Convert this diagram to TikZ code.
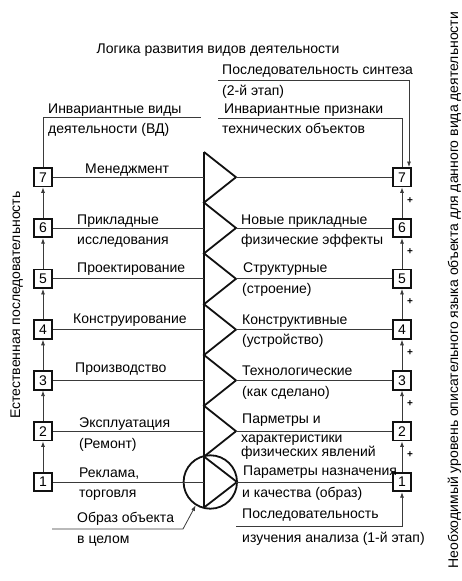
\documentclass[tikz,border=0pt]{standalone}
\usepackage{fontspec}
\setmainfont{Liberation Sans}
\usetikzlibrary{arrows.meta, calc}
\definecolor{ink}{HTML}{111111}
\definecolor{wire}{HTML}{3A3A3A}
\tikzset{
  lvl/.style={draw=ink, line width=1.8pt, minimum size=18.5pt, inner sep=0pt, fill=white, font=\fontsize{14}{16}\selectfont},
  wire/.style={draw=wire, line width=0.8pt},
  tip/.style={-{Latex[length=5.5pt,width=4pt]}},
  txt/.style={anchor=base west, inner sep=0pt, font=\fontsize{14}{16}\selectfont},
  plus/.style={inner sep=0pt, font=\fontsize{10}{10}\selectfont\bfseries}
}

\begin{document}
\begin{tikzpicture}[x=1pt, y=-1pt]
  \useasboundingbox (0,0) rectangle (462,581);
  \fill[white] (0,0) rectangle (462,581);

  % levels 1..7, spine and zigzag
  \foreach \k in {1,...,7}{
     \pgfmathsetmacro\yy{482-(\k-1)*50.8}
     \node[lvl] (l\k) at (43,\yy) {\k};
     \node[lvl] (r\k) at (402,\yy) {\k};
     \coordinate (s\k) at (204,\yy);
     \coordinate (t\k) at (236,\yy);}
  \node[draw=ink, circle, line width=1.8pt, minimum size=53.4pt, inner sep=0pt] (img) at (210.3,482) {};
  \draw[ink, line width=1.8pt] (204,152) -- (204,507.5);
  \draw[ink, line width=1.8pt] (204,152)
     \foreach \k in {7,...,2}{ -- (t\k) -- ($(s\k)+(0,25.4)$) } -- (237,482) -- (204,507.5);

  \foreach \k in {1,...,7}{
     \draw[wire] (l\k.east) -- (s\k);
     \draw[wire] (t\k) -- (r\k.west);}
  \foreach \k [evaluate=\k as \n using int(\k+1)] in {1,...,6}{
     \draw[wire, tip] (l\k.north) -- (l\n.south);
     \draw[wire, tip] (r\k.north) -- (r\n.south);
     \node[plus] (p\n) at ($(r\n.south)+(8,13)$) {+};}

  % top and bottom feeds
  \coordinate (lt) at (43,117); \coordinate (le) at (201,117);
  \draw[wire] (l7.north) -- (lt) -- (le);
  \coordinate (rt) at (218,118); \coordinate (rc) at (402,118);
  \draw[wire] (rt) -- (rc) -- (r7.north);
  \coordinate (st) at (218,80); \coordinate (sc) at (409,80);
  \draw[wire, tip] (st) -- (sc) -- (sc |- r7.north);
  \coordinate (bt) at (236,526); \coordinate (bc) at (402,526);
  \draw[wire, tip] (bt) -- (bc) -- (r1.south);
  \coordinate (ot) at (52,529); \coordinate (oc) at (183,529);
  \draw[wire, tip] (ot) -- (oc) -- (img.238);

  % texts
  \node[txt, anchor=base] (title) at (218,53) {Логика развития видов деятельности};
  \node[txt] (syn1) at (222,74) {Последовательность синтеза};
  \node[txt] (syn2) at (222,95) {(2-й этап)};
  \node[txt] (inv1) at (48,113) {Инвариантные виды};
  \node[txt] (inv2) at (48,133) {деятельности (ВД)};
  \node[txt] (sig1) at (224,113) {Инвариантные признаки};
  \node[txt] (sig2) at (222,133) {технических объектов};

  \node[txt] (a7) at (85,173) {Менеджмент};
  \node[txt] (a6) at (77,224) {Прикладные};
  \node[txt] (a6b) at (77,244) {исследования};
  \node[txt] (a5) at (77,272) {Проектирование};
  \node[txt] (a4) at (73,323) {Конструирование};
  \node[txt] (a3) at (75,372) {Производство};
  \node[txt] (a2) at (79,427) {Эксплуатация};
  \node[txt] (a2b) at (79,448) {(Ремонт)};
  \node[txt] (a1) at (79,477) {Реклама,};
  \node[txt] (a1b) at (79,497) {торговля};
  \node[txt] (o1) at (77,522) {Образ объекта};
  \node[txt] (o2) at (77,543) {в целом};

  \node[txt] (b6) at (241,224) {Новые прикладные};
  \node[txt] (b6b) at (241,244) {физические эффекты};
  \node[txt] (b5) at (243,272) {Структурные};
  \node[txt] (b5b) at (242,293) {(строение)};
  \node[txt] (b4) at (242,324) {Конструктивные};
  \node[txt] (b4b) at (242,344) {(устройство)};
  \node[txt] (b3) at (242,375) {Технологические};
  \node[txt] (b3b) at (242,396) {(как сделано)};
  \node[txt] (b2) at (242,423) {Парметры и};
  \node[txt] (b2b) at (241,442) {характеристики};
  \node[txt] (b2c) at (241,456) {физических явлений};
  \node[txt] (b1) at (243,475) {Параметры назначения};
  \node[txt] (b1b) at (242,497) {и качества (образ)};
  \node[txt] (q1) at (242,518) {Последовательность};
  \node[txt] (q2) at (242,542) {изучения анализа (1-й этап)};

  \node[txt, anchor=base, rotate=90] (nat) at (20,305) {Естественная последовательность};
  \node[txt, anchor=base, rotate=90] (need) at (458,290) {Необходимый уровень описательного языка объекта для данного вида деятельности};
\end{tikzpicture}
\end{document}
